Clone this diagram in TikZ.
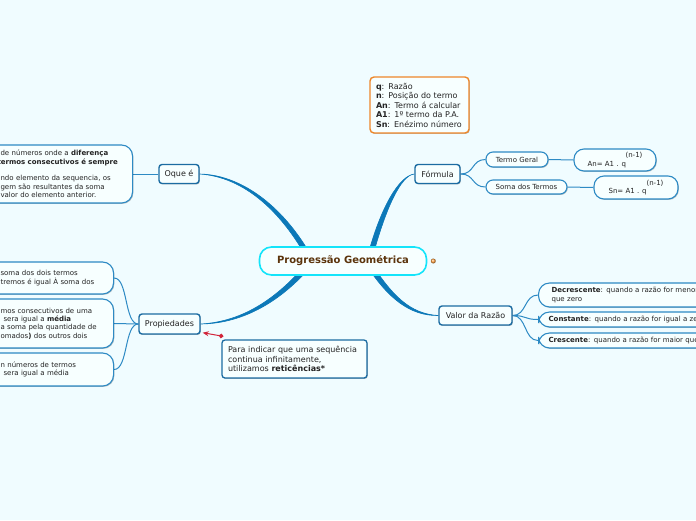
\documentclass[tikz,border=0pt]{standalone}
\usepackage{fontspec}
\setmainfont{DejaVu Sans}
\usetikzlibrary{arrows.meta, positioning, calc, backgrounds, shadows}

\definecolor{bgcol}{RGB}{240,252,255}
\definecolor{boxfill}{RGB}{247,255,255}
\definecolor{branchcol}{RGB}{12,120,184}
\definecolor{topiccol}{RGB}{28,108,162}
\definecolor{linkcol}{RGB}{45,138,196}
\definecolor{pgcol}{RGB}{20,228,250}
\definecolor{pgtext}{RGB}{92,52,12}
\definecolor{infocol}{RGB}{238,135,42}
\definecolor{notecol}{RGB}{210,36,58}
\definecolor{txtcol}{RGB}{35,35,35}

\begin{document}
\begin{tikzpicture}[x=1pt, y=-1pt,
		myshadow/.style={drop shadow={shadow xshift=.8pt, shadow yshift=-.9pt, opacity=.25, fill=black}},
		root/.style={draw=pgcol, line width=1.6, fill=boxfill, rounded corners=12, minimum width=167, minimum height=28, inner sep=0, text=pgtext, font=\bfseries\fontsize{10}{12}\selectfont},
		topic/.style={draw=topiccol, line width=1.4, fill=boxfill, rounded corners=3, inner sep=0, text=txtcol, font=\fontsize{8}{9.6}\selectfont, myshadow},
		subtopic/.style={draw=linkcol, line width=1.1, fill=boxfill, rounded corners=7, inner sep=0, text=txtcol, font=\fontsize{7}{8.4}\selectfont, myshadow},
		detail/.style={draw=linkcol, line width=1.1, fill=boxfill, rounded corners=11, inner ysep=0, align=left, text=txtcol, font=\fontsize{7}{8.4}\selectfont, myshadow},
		infobox/.style={draw=infocol, line width=1.4, fill=boxfill, rounded corners=4, inner xsep=6, text width=87, align=left, text=txtcol, font=\fontsize{8}{9.5}\selectfont, myshadow},
		notebox/.style={draw=topiccol, line width=1.3, fill=boxfill, rounded corners=3, inner xsep=6, text width=133, align=left, text=txtcol, font=\fontsize{8}{9.8}\selectfont, myshadow},
		branch/.style={fill=branchcol, draw=branchcol, line width=.6},
		link/.style={draw=linkcol, line width=1},
		notelink/.style={draw=notecol, line width=1, {Circle[length=4.5pt]}-{Stealth[length=6pt, width=5pt]}}
	]
	\useasboundingbox (0,0) rectangle (696,520);
	\clip (0,0) rectangle (696,520);
	
	% Central topic
	\node[root] (pg) at (343,261) {Progressão Geométrica};
	\shade[ball color=orange!75] ($(pg.east)+(6,0)$) circle (2.5);
	
	% Main topics
	\node[topic, minimum width=40, minimum height=19] (oque) at (179,174) {Oque é};
	\node[topic, minimum width=45, minimum height=19] (formula) at (437.5,174) {Fórmula};
	\node[topic, minimum width=61, minimum height=20] (prop) at (169.5,324) {Propiedades};
	\node[topic, minimum width=73, minimum height=19] (valor) at (475.5,315.5) {Valor da Razão};
	
	% Oque é
	\node[detail, anchor=west, inner xsep=14, text width=118, minimum height=58] (oquetext) at (-14,174)
	{de números onde a \textbf{diferença}\\
		\hspace*{-3pt}\textbf{termos consecutivos é sempre}\\[8.4pt]
		ndo elemento da sequencia, os\\
		gem são resultantes da soma\\
		valor do elemento anterior.};
	
	% Formula
	\node[subtopic, minimum width=62, minimum height=15] (termo) at (517,159.5) {Termo Geral};
	\node[subtopic, minimum width=81, minimum height=14] (soma) at (526.5,187) {Soma dos Termos};
	\node[subtopic, align=left, minimum width=82, minimum height=22, rounded corners=10] (an) at (615,160)
	{\hspace*{38pt}(n-1)\\An= A1 . q};
	\node[subtopic, align=left, minimum width=84, minimum height=23, rounded corners=10] (sn) at (636,187.5)
	{\hspace*{38pt}(n-1)\\Sn= A1 . q};
	\node[infobox, minimum height=56] (info) at (419.5,105)
	{\textbf{q}: Razão\\
		\textbf{n}: Posição do termo\\
		\textbf{An}: Termo á calcular\\
		\textbf{A1}: 1º termo da P.A.\\
		\textbf{Sn}: Enézimo número};
	
	% Propiedades
	\node[detail, anchor=west, inner xsep=12, text width=101, minimum height=32] (prop1) at (-12,278)
	{soma dos dois termos\\tremos é igual À soma dos};
	\node[detail, anchor=west, inner xsep=12, text width=101, minimum height=49] (prop2) at (-12,323.5)
	{mos consecutivos de uma\\
		\hspace*{3pt}sera igual a \textbf{média}\\
		a soma pela quantidade de\\
		omados\textbf{)} dos outros dois};
	\node[detail, anchor=west, inner xsep=12, text width=101, minimum height=33] (prop3) at (-12,369.5)
	{n números de termos\\\hspace*{3pt}sera igual a média};
	\node[notebox, minimum height=38] (note) at (294.5,359)
	{Para indicar que uma sequência\\continua infinitamente,\\utilizamos \textbf{reticências*}};
	
	% Valor da Razao
	\node[detail, anchor=west, inner xsep=13, text width=200, minimum height=24] (decres) at (538,295)
	{\textbf{Decrescente}: quando a razão for menor\\que zero};
	\node[detail, anchor=west, inner xsep=10, text width=200, minimum height=15] (const) at (538,319.5)
	{\textbf{Constante}: quando a razão for igual a ze};
	\node[detail, anchor=west, inner xsep=10, text width=200, minimum height=15] (cres) at (538,340.5)
	{\textbf{Crescente}: quando a razão for maior que};
	
	% Note arrow
	\draw[notelink] ($(note.north west)+(2,-3)$) -- ($(prop.south east)+(2,-2)$);
	
	\begin{scope}[on background layer]
		\fill[bgcol] (0,0) rectangle (696,520);
		
		% Main branches
		\fill[branch] (oque.east) .. controls (245,175) and (286,211) .. ($(pg.center)+(-32,-5.4)$)
		-- ($(pg.center)+(-36,-2.6)$) .. controls (282,213) and (245,177) .. (oque.east);
		\fill[branch] (formula.west) .. controls (401,175) and (385.5,208.5) .. ($(pg.center)+(29.4,-3.3)$)
		-- ($(pg.center)+(24.6,-4.7)$) .. controls (380.5,207.5) and (399,176) .. (formula.west);
		\fill[branch] (prop.east) .. controls (245,323.5) and (282,299.5) .. ($(pg.center)+(-33,6.5)$)
		-- ($(pg.center)+(-37,3.5)$) .. controls (278,296.5) and (245,321.5) .. (prop.east);
		\fill[branch] (valor.west) .. controls (410,314) and (392,295.5) .. ($(pg.center)+(27,0.5)$)
		-- ($(pg.center)+(23,3.5)$) .. controls (388,298.5) and (410,316) .. (valor.west);
		
		% Sub branches
		\draw[link] (oque.west) -- (oquetext.east);
		\draw[link] (formula.east) .. controls +(14,0) and +(-14,0) .. (termo.west);
		\draw[link] (formula.east) .. controls +(14,0) and +(-14,0) .. (soma.west);
		\draw[link] (termo.east) -- (an.west);
		\draw[link] (soma.east) -- (sn.west);
		\foreach \leaf in {prop1, prop2, prop3}
		\draw[link] (prop.west) .. controls +(-14,0) and +(14,0) .. (\leaf.east);
		\foreach \leaf in {decres, const, cres}
		\draw[link] (valor.east) .. controls +(14,0) and +(-14,0) .. (\leaf.west);
	\end{scope}
\end{tikzpicture}
\end{document}
